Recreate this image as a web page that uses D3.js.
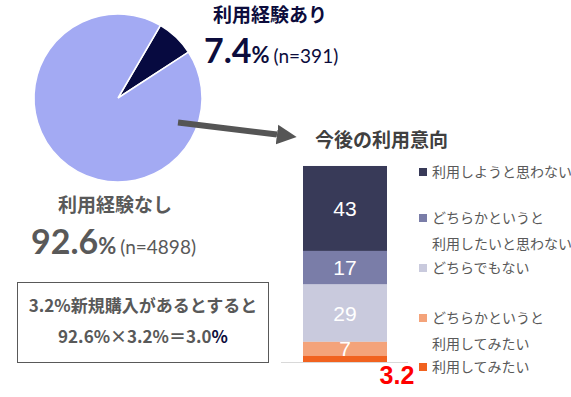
<!DOCTYPE html>
<html>
<head>
<meta charset="utf-8">
<script src="https://cdn.jsdelivr.net/npm/d3@7"></script>
<style>
  body { margin: 0; background: #fff; }
  text { font-family: "Noto Sans CJK JP", "Noto Sans", sans-serif; }
</style>
</head>
<body>
<script>
// Pie data
var pieLabels = ["利用経験あり", "利用経験なし"];
var pieValues = [7.4, 92.6];
var pieN = [391, 4898];

// Stacked bar data (top to bottom)
var barCategories = [
  ["利用しようと思わない"],
  ["どちらかというと", "利用したいと思わない"],
  ["どちらでもない"],
  ["どちらかというと", "利用してみたい"],
  ["利用してみたい"]
];
var barValues = [43, 17, 29, 7, 3.2];
var barColors = ["#383a58", "#7a7da8", "#c9cadd", "#f4a37a", "#f1621f"];

var width = 571, height = 397;
var navy = "#0c0c3c", gray = "#595959";

var svg = d3.select("body").append("svg")
  .attr("width", width)
  .attr("height", height);

// Pie
var cx = 118, cy = 98, radius = 84;
var pie = d3.pie().sort(null)
  .startAngle(30.3 * Math.PI / 180)
  .endAngle(30.3 * Math.PI / 180 + 2 * Math.PI);
var arc = d3.arc().innerRadius(0).outerRadius(radius);

svg.append("g")
  .attr("transform", "translate(" + cx + "," + cy + ")")
  .selectAll("path")
  .data(pie(pieValues))
  .enter().append("path")
    .attr("d", arc)
    .attr("fill", function(d, i) { return i == 0 ? "#070a40" : "#a3aaf3"; })
    .attr("stroke", "#fff")
    .attr("stroke-width", 1.5);

// Pie labels
function pieLabel(i, x, y, color) {
  svg.append("text")
    .attr("x", x).attr("y", y)
    .attr("text-anchor", "middle")
    .attr("font-size", 19).attr("font-weight", "bold")
    .attr("fill", color)
    .text(pieLabels[i]);
}
function pieValue(i, x, y, color) {
  var t = svg.append("text")
    .attr("x", x).attr("y", y)
    .attr("fill", color)
    .style("font-family", "Lato, sans-serif");
  t.append("tspan").attr("font-size", 34).attr("font-weight", "bold").text(pieValues[i]);
  t.append("tspan").attr("font-size", 22).attr("font-weight", "bold").text("%");
  t.append("tspan").attr("font-size", 19).attr("dx", 4).text("(n=" + pieN[i] + ")");
}
pieLabel(0, 270, 22, navy);
pieValue(0, 204, 63, navy);
pieLabel(1, 115, 212, gray);
pieValue(1, 31, 254, gray);

// Calculation box
svg.append("rect")
  .attr("x", 17.5).attr("y", 282.5)
  .attr("width", 251).attr("height", 80)
  .attr("fill", "none")
  .attr("stroke", "#595959");
svg.append("text")
  .attr("x", 143).attr("y", 312)
  .attr("text-anchor", "middle")
  .attr("font-size", 17).attr("font-weight", "bold")
  .attr("fill", gray)
  .text(barValues[4] + "%新規購入があるとすると");
var calc = svg.append("text")
  .attr("x", 143).attr("y", 343)
  .attr("text-anchor", "middle")
  .attr("font-size", 17).attr("font-weight", "bold")
  .attr("fill", gray);
calc.append("tspan").text(pieValues[1] + "%×" + barValues[4] + "%＝" + (pieValues[1] * barValues[4] / 100).toFixed(1));
calc.append("tspan").attr("fill", navy).text("%");

// Arrow
svg.append("defs").append("marker")
  .attr("id", "head")
  .attr("viewBox", "0 0 10 10")
  .attr("refX", 0).attr("refY", 5)
  .attr("markerWidth", 3.3).attr("markerHeight", 3.4)
  .attr("markerUnits", "strokeWidth")
  .attr("orient", "auto")
  .append("path").attr("d", "M0,0L10,5L0,10Z").attr("fill", "#555");
svg.append("line")
  .attr("x1", 178).attr("y1", 122.5)
  .attr("x2", 277).attr("y2", 134.5)
  .attr("stroke", "#555").attr("stroke-width", 6)
  .attr("marker-end", "url(#head)");

// Bar title
svg.append("text")
  .attr("x", 315).attr("y", 147)
  .attr("font-size", 19).attr("font-weight", "bold")
  .attr("fill", "#404040")
  .text("今後の利用意向");

// Stacked bar
var y = d3.scaleLinear().domain([0, 100]).range([362, 164.4]);
var x = d3.scaleBand().domain(["bar"]).range([303, 387]);

var stack = [];
var cum = d3.sum(barValues);
barValues.forEach(function(v, i) {
  stack.push({value: v, y1: cum, y0: cum - v, color: barColors[i]});
  cum -= v;
});

svg.selectAll("rect.seg")
  .data(stack)
  .enter().append("rect")
    .attr("class", "seg")
    .attr("x", x("bar"))
    .attr("width", x.bandwidth())
    .attr("y", function(d) { return y(d.y1); })
    .attr("height", function(d) { return y(d.y0) - y(d.y1); })
    .attr("fill", function(d) { return d.color; });

svg.selectAll("text.seg")
  .data(stack.slice(0, 4))
  .enter().append("text")
    .attr("class", "seg")
    .attr("x", x("bar") + x.bandwidth() / 2)
    .attr("y", function(d) { return (y(d.y0) + y(d.y1)) / 2 + 7.5; })
    .attr("text-anchor", "middle")
    .attr("font-size", 21)
    .attr("fill", "#fff")
    .style("font-family", "Liberation Sans, Arial, sans-serif")
    .text(function(d) { return d.value; });

// Baseline
svg.append("line")
  .attr("x1", 281).attr("x2", 408)
  .attr("y1", y(0) + 0.5).attr("y2", y(0) + 0.5)
  .attr("stroke", "#d9d9d9");

// Small value label
svg.append("text")
  .attr("x", 397).attr("y", 384)
  .attr("text-anchor", "middle")
  .attr("font-size", 25).attr("font-weight", "bold")
  .attr("fill", "#ff0000")
  .style("font-family", "Liberation Sans, Arial, sans-serif")
  .text(barValues[4]);

// Legend
var legendY = [172, 218, 268, 318, 367];
var legend = svg.selectAll("g.legend")
  .data(barCategories)
  .enter().append("g")
    .attr("class", "legend")
    .attr("transform", function(d, i) { return "translate(419," + legendY[i] + ")"; });
legend.append("rect")
  .attr("x", 0).attr("y", -4)
  .attr("width", 8).attr("height", 8)
  .attr("fill", function(d, i) { return barColors[i]; });
legend.each(function(lines) {
  var g = d3.select(this);
  lines.forEach(function(line, j) {
    g.append("text")
      .attr("x", 13).attr("y", j * 26 + 5)
      .attr("font-size", 14)
      .attr("fill", gray)
      .text(line);
  });
});
</script>
</body>
</html>
